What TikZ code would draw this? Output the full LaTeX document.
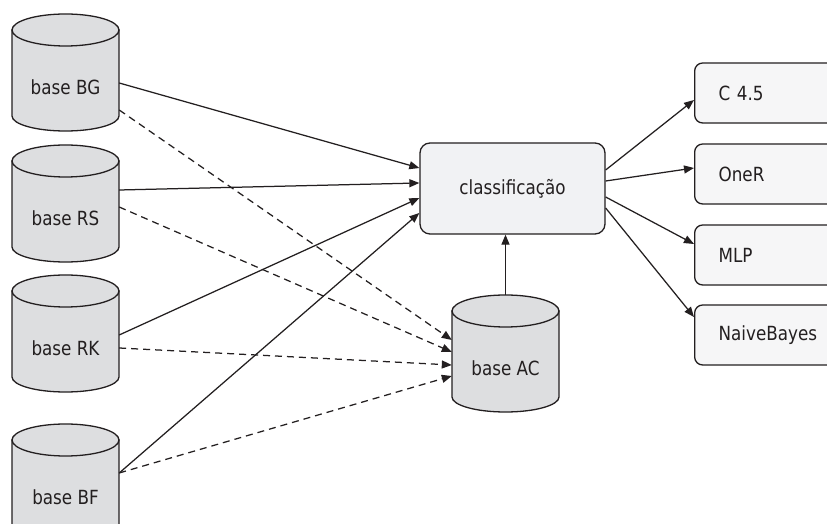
\documentclass[tikz,border=0pt]{standalone}
\usepackage{fontspec}
\setmainfont{DejaVu Sans}[FakeStretch=0.86]
\usetikzlibrary{arrows.meta}
\definecolor{ink}{HTML}{231F20}
\definecolor{cylgray}{HTML}{DDDEE0}
\definecolor{boxgray}{HTML}{F1F2F4}
\definecolor{outgray}{HTML}{F6F6F7}
\tikzset{
  lbl/.style={font=\fontsize{19.5}{21}\selectfont, text=ink},
  cylline/.style={draw=ink, line width=1.3pt, fill=cylgray},
  conn/.style={draw=ink, line width=1.25pt, -{Triangle[length=10pt,width=8pt]}},
  dconn/.style={conn, dash pattern=on 7pt off 5pt},
  procbox/.style={lbl, draw=ink, line width=1.3pt, fill=boxgray, rounded corners=10pt,
    minimum width=185pt, minimum height=91pt, inner sep=0pt},
  algbox/.style={lbl, draw=ink, line width=1.3pt, fill=outgray, rounded corners=8pt,
    anchor=west, minimum height=60pt, text width=112pt, inner xsep=24pt, inner ysep=0pt, align=left}
}
% database cylinder: #1 name, #2 left edge, #3 top (measured downward from the top edge), #4 label
\newcommand\dbcyl[4]{%
  \pgfmathsetmacro\cyltop{524-#3-16}%
  \pgfmathsetmacro\cylbot{524-#3-102}%
  \pgfmathsetmacro\cylmid{524-#3-59}%
  \pgfmathsetmacro\cyltxt{524-#3-73}%
  \pgfmathsetmacro\cylcx{#2+53.5}%
  \draw[cylline] (#2,\cyltop) -- (#2,\cylbot)
     arc[start angle=180, end angle=360, x radius=53.5, y radius=15]
     -- (#2+107,\cyltop) -- cycle;
  \draw[cylline] (\cylcx,\cyltop) ellipse[x radius=53.5, y radius=16];
  \node[minimum width=107pt, minimum height=118pt, inner sep=0pt] (#1) at (\cylcx,\cylmid) {};
  \node[lbl] (#1-t) at (\cylcx,\cyltxt) {#4};
}
\begin{document}
\begin{tikzpicture}[x=1pt,y=1pt]
\clip (0,0) rectangle (827,524);
\fill[white] (0,0) rectangle (827,524);

% source databases
\dbcyl{bg}{12}{14}{base BG}
\dbcyl{rs}{12}{145}{base RS}
\dbcyl{rk}{12}{275}{base RK}
\dbcyl{bf}{12}{424}{base BF}
\dbcyl{ac}{452}{295}{base AC}

% classification step
\node[procbox] (cls) at (512.5,335.5) {classificação};

% classifiers
\node[algbox] (c45) at (694,431) {C 4.5};
\node[algbox] (oner) at (694,350) {OneR};
\node[algbox] (mlp) at (694,269) {MLP};
\node[algbox] (nb) at (694,189) {NaiveBayes};

% bases into the classification step
\draw[conn] ([yshift=-10pt]bg.east) -- ([yshift=20.5pt]cls.west);
\draw[conn] ([yshift=14pt]rs.east) -- ([yshift=5.5pt]cls.west);
\draw[conn] ([yshift=-1pt]rk.east) -- ([yshift=-9.5pt]cls.west);
\draw[conn] ([yshift=10pt]bf.east) -- ([yshift=-24.5pt]cls.west);

% bases merged into base AC
\draw[dconn] ([yshift=-37pt]bg.east) -- ([yshift=14pt]ac.west);
\draw[dconn] ([yshift=-3pt]rs.east) -- ([yshift=2pt]ac.west);
\draw[dconn] ([yshift=-14pt]rk.east) -- ([yshift=-11pt]ac.west);
\draw[dconn] ([yshift=10pt]bf.east) -- ([yshift=-22pt]ac.west);

% base AC into the classification step
\draw[conn] (ac.north) -- (ac.north |- cls.south);

% classification step to classifiers
\draw[conn] ([yshift=18.5pt]cls.east) -- ([yshift=-7pt]c45.west);
\draw[conn] ([yshift=7.5pt]cls.east) -- ([yshift=6pt]oner.west);
\draw[conn] ([yshift=-8.5pt]cls.east) -- ([yshift=11pt]mlp.west);
\draw[conn] ([yshift=-19.5pt]cls.east) -- ([yshift=18pt]nb.west);
\end{tikzpicture}
\end{document}
